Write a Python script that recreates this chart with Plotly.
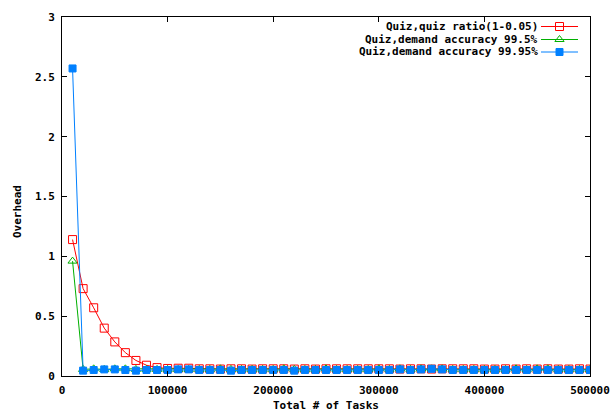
import plotly.graph_objects as go

# Number of tasks (x) and measured overhead for each configuration
tasks = [10000, 20000, 30000, 40000, 50000, 60000, 70000, 80000, 90000, 100000,
         110000, 120000, 130000, 140000, 150000, 160000, 170000, 180000, 190000, 200000,
         210000, 220000, 230000, 240000, 250000, 260000, 270000, 280000, 290000, 300000,
         310000, 320000, 330000, 340000, 350000, 360000, 370000, 380000, 390000, 400000,
         410000, 420000, 430000, 440000, 450000, 460000, 470000, 480000, 490000, 500000]

quiz_ratio = [1.14, 0.73, 0.57, 0.40, 0.285, 0.195, 0.13, 0.09, 0.07, 0.063,
              0.065, 0.065, 0.06, 0.06, 0.058, 0.06, 0.06, 0.058, 0.06, 0.06,
              0.06, 0.058, 0.06, 0.058, 0.06, 0.06, 0.06, 0.06, 0.06, 0.06,
              0.06, 0.058, 0.06, 0.06, 0.058, 0.06, 0.06, 0.06, 0.06, 0.058,
              0.058, 0.06, 0.058, 0.06, 0.058, 0.06, 0.058, 0.058, 0.06, 0.058]

acc_995 = [0.96, 0.055, 0.06, 0.055, 0.06, 0.06, 0.055, 0.055, 0.055, 0.055,
           0.055, 0.055, 0.055, 0.055, 0.06, 0.055, 0.055, 0.055, 0.055, 0.055,
           0.06, 0.055, 0.055, 0.055, 0.06, 0.055, 0.055, 0.055, 0.055, 0.06,
           0.055, 0.06, 0.055, 0.06, 0.06, 0.06, 0.055, 0.055, 0.055, 0.055,
           0.055, 0.055, 0.06, 0.055, 0.06, 0.06, 0.055, 0.055, 0.055, 0.055]

acc_9995 = [2.57, 0.045, 0.05, 0.055, 0.055, 0.05, 0.045, 0.05, 0.05, 0.05,
            0.055, 0.055, 0.05, 0.05, 0.05, 0.045, 0.05, 0.05, 0.05, 0.05,
            0.05, 0.045, 0.05, 0.05, 0.05, 0.05, 0.05, 0.05, 0.05, 0.05,
            0.05, 0.055, 0.05, 0.055, 0.06, 0.055, 0.05, 0.05, 0.05, 0.05,
            0.05, 0.05, 0.05, 0.05, 0.05, 0.05, 0.05, 0.05, 0.05, 0.05]

series_names = ["Quiz,quiz ratio(1-0.05)",
                "Quiz,demand accuracy 99.5%",
                "Quiz,demand accuracy 99.95%"]
series_values = [quiz_ratio, acc_995, acc_9995]
series_colors = ["#ff0000", "#00b000", "#0080ff"]
series_symbols = ["square-open", "triangle-up-open", "square"]

x_ticks = [0, 100000, 200000, 300000, 400000, 500000]
y_ticks = [0, 0.5, 1, 1.5, 2, 2.5, 3]

W, H = 612, 412
L, R, T, B = 62, 590, 17, 376
FONT = dict(family="DejaVu Sans Mono", size=11, color="black", weight="bold")


def paper_x(px):
    return (px - L) / (R - L)


def paper_y(py):
    return (B - py) / (B - T)


fig = go.Figure()

for name, vals, col, sym in zip(series_names, series_values, series_colors, series_symbols):
    fig.add_trace(go.Scatter(
        x=tasks, y=vals, mode="lines+markers", name=name,
        line=dict(color=col, width=1),
        marker=dict(symbol=sym, size=8 if sym != "square" else 7, color=col,
                    line=dict(color=col, width=1)),
        showlegend=False,
    ))

# key entries: text right-aligned, sample line and marker to its right
key_rows = [26.5, 39.5, 52]
for name, col, sym, py in zip(series_names, series_colors, series_symbols, key_rows):
    fig.add_trace(go.Scatter(
        x=[541, 578], y=[py, py], xaxis="x2", yaxis="y2", mode="lines",
        line=dict(color=col, width=1), showlegend=False, hoverinfo="skip"))
    fig.add_trace(go.Scatter(
        x=[559.5], y=[py], xaxis="x2", yaxis="y2", mode="markers",
        marker=dict(symbol=sym, size=8 if sym != "square" else 7, color=col,
                    line=dict(color=col, width=1)),
        showlegend=False, hoverinfo="skip"))
    fig.add_annotation(x=paper_x(540), y=paper_y(py), xref="paper", yref="paper",
                       text=name, showarrow=False, xanchor="right", yanchor="middle",
                       font=FONT)

fig.add_annotation(x=paper_x(326), y=paper_y(405), xref="paper", yref="paper",
                   text="Total # of Tasks", showarrow=False,
                   xanchor="center", yanchor="middle", font=FONT)
fig.add_annotation(x=paper_x(17), y=paper_y(212), xref="paper", yref="paper",
                   text="Overhead", showarrow=False, textangle=-90,
                   xanchor="center", yanchor="middle", font=FONT)

axis_common = dict(showgrid=False, zeroline=False, showline=True, linecolor="black",
                   linewidth=1, mirror="ticks", ticks="inside", ticklen=5,
                   tickcolor="black", tickfont=FONT, automargin=False)

fig.update_layout(
    width=W, height=H,
    margin=dict(l=L, r=W - R, t=T, b=H - B, pad=0, autoexpand=False),
    paper_bgcolor="white", plot_bgcolor="white",
    xaxis=dict(range=[0, 500000], tickvals=x_ticks,
               ticktext=[str(v) for v in x_ticks], ticklabelstandoff=4,
               **axis_common),
    yaxis=dict(range=[0, 3], tickvals=y_ticks,
               ticktext=[("%g" % v) for v in y_ticks], ticklabelstandoff=4,
               **axis_common),
    xaxis2=dict(range=[L, R], overlaying="x", visible=False, fixedrange=True),
    yaxis2=dict(range=[B, T], overlaying="y", visible=False, fixedrange=True),
    showlegend=False,
)

fig.write_html("out.html")
